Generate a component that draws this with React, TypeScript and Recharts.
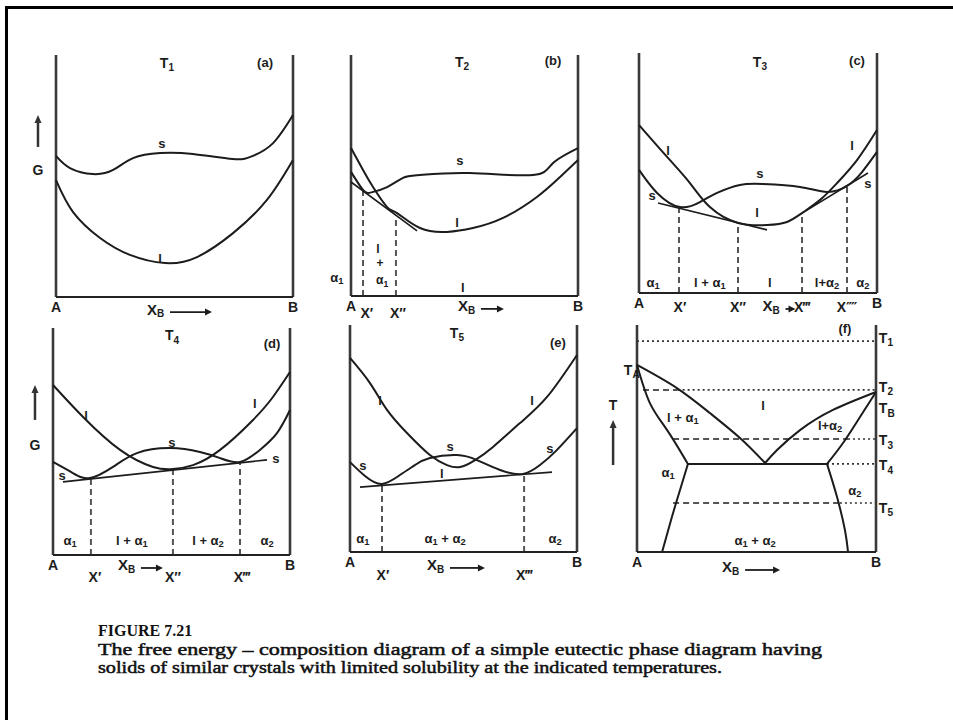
import React from 'react';
import { LineChart, Line, XAxis, YAxis, ReferenceLine, ReferenceDot } from 'recharts';

type P = { x: number; g: number };
type Lab = { x: number; g: number; t: string; size?: number; anchor?: 'start' | 'middle' | 'end' };
type Seg = { x1: number; g1: number; x2: number; g2: number; kind: 'dash' | 'dot' | 'solid' };

const pts = (a: number[][]): P[] => a.map(([x, g]) => ({ x, g }));

// ---------- composition end labels ----------
const endLabels = ['A', 'B'];

// ---------- (a) T1 ----------
const aSolid = pts([[0, 58.3], [0.059, 53.3], [0.156, 50.8], [0.241, 52.5], [0.325, 57.4], [0.439, 59.5], [0.578, 59.1], [0.747, 57.0], [0.831, 58.3], [0.916, 63.6], [1, 75.2]]);
const aLiquid = pts([[0, 48.3], [0.072, 35.1], [0.186, 24.4], [0.312, 17.4], [0.46, 14.0], [0.595, 16.5], [0.747, 26.4], [0.89, 40.1], [1, 56.6]]);
const aLabels: Lab[] = [
  { x: 0.468, g: 96.7, t: 'T_1', size: 14 }, { x: 0.882, g: 97.1, t: '(a)' },
  { x: 0.447, g: 63.6, t: 's' }, { x: 0.439, g: 16.1, t: 'l' }, { x: -0.076, g: 52.5, t: 'G', size: 14 },
];

// ---------- (b) T2 ----------
const bLiquid = pts([[0, 61.4], [0.053, 52.3], [0.097, 45.2], [0.159, 36.9], [0.203, 34.4], [0.304, 28.2], [0.423, 26.6], [0.537, 28.2], [0.67, 32.4], [0.819, 41.1], [0.921, 49.4], [1, 56.4]]);
const bSolid = pts([[0, 51.5], [0.053, 44.0], [0.09, 43.0], [0.159, 45.2], [0.229, 49.0], [0.304, 50.2], [0.524, 51.0], [0.802, 50.2], [0.89, 55.2], [1, 61.4]]);
const bTangent = pts([[0, 47.3], [0.291, 27.0]]);
const bDashed: Seg[] = [
  { x1: 0.053, g1: 0, x2: 0.053, g2: 43.6, kind: 'dash' },
  { x1: 0.198, g1: 0, x2: 0.198, g2: 33.6, kind: 'dash' },
];
const bLabels: Lab[] = [
  { x: 0.489, g: 97.1, t: 'T_2', size: 14 }, { x: 0.89, g: 97.9, t: '(b)' },
  { x: 0.48, g: 56.4, t: 's' }, { x: 0.467, g: 30.7, t: 'l' },
  { x: -0.062, g: 7.9, t: 'α_1' }, { x: 0.119, g: 19.5, t: 'l', size: 12 }, { x: 0.128, g: 13.6, t: '+', size: 12 },
  { x: 0.137, g: 6.6, t: 'α_1', size: 12 }, { x: 0.493, g: 3.7, t: 'l' },
  { x: 0.07, g: -7.1, t: 'X′', size: 14 }, { x: 0.207, g: -7.1, t: 'X″', size: 14 },
];

// ---------- (c) T3 ----------
const cLiquid = pts([[0, 70.0], [0.118, 56.7], [0.214, 45.8], [0.298, 35.8], [0.416, 29.2], [0.538, 28.3], [0.622, 29.6], [0.685, 33.3], [0.761, 38.8], [0.832, 45.8], [0.916, 55.4], [1, 67.9]]);
const cSolid = pts([[0, 51.3], [0.076, 41.7], [0.172, 35.8], [0.256, 37.9], [0.328, 41.7], [0.424, 45.0], [0.521, 45.4], [0.676, 44.2], [0.79, 42.1], [0.874, 44.6], [0.937, 50.4], [1, 58.8]]);
const cTangentL = pts([[0.08, 37.5], [0.538, 26.3]]);
const cTangentR = pts([[0.685, 33.3], [0.962, 50.0]]);
const cDashed: Seg[] = [
  { x1: 0.168, g1: 0, x2: 0.168, g2: 35.4, kind: 'dash' },
  { x1: 0.416, g1: 0, x2: 0.416, g2: 29.2, kind: 'dash' },
  { x1: 0.685, g1: 0, x2: 0.685, g2: 33.3, kind: 'dash' },
  { x1: 0.874, g1: 0, x2: 0.874, g2: 44.2, kind: 'dash' },
];
const cLabels: Lab[] = [
  { x: 0.508, g: 96.3, t: 'T_3', size: 14 }, { x: 0.916, g: 97.1, t: '(c)' },
  { x: 0.122, g: 59.6, t: 'l' }, { x: 0.508, g: 50.0, t: 's' }, { x: 0.496, g: 33.8, t: 'l' },
  { x: 0.055, g: 40.8, t: 's' }, { x: 0.895, g: 61.7, t: 'l' }, { x: 0.962, g: 45.8, t: 's' },
  { x: 0.059, g: 4.6, t: 'α_1' }, { x: 0.298, g: 4.6, t: 'l + α_1' }, { x: 0.55, g: 4.6, t: 'l' },
  { x: 0.79, g: 4.6, t: 'l+α_2' }, { x: 0.941, g: 4.6, t: 'α_2' },
  { x: 0.172, g: -5.8, t: 'X′', size: 14 }, { x: 0.416, g: -5.8, t: 'X″', size: 14 },
  { x: 0.685, g: -5.8, t: 'X‴', size: 14 }, { x: 0.874, g: -5.8, t: 'X⁗', size: 14 },
];

// ---------- (d) T4 ----------
const dLiquid = pts([[0, 74.9], [0.127, 60.8], [0.283, 46.3], [0.422, 38.8], [0.506, 37.9], [0.591, 39.6], [0.705, 46.3], [0.844, 59.5], [0.928, 69.6], [1, 80.6]]);
const dSolid = pts([[0, 41.0], [0.084, 36.1], [0.156, 33.9], [0.253, 38.8], [0.354, 44.9], [0.494, 47.1], [0.62, 45.4], [0.705, 42.7], [0.789, 41.0], [0.873, 46.3], [0.945, 53.7], [1, 63.9]]);
const dTangent = pts([[0.042, 32.2], [0.903, 41.9]]);
const dDashed: Seg[] = [
  { x1: 0.16, g1: 0, x2: 0.16, g2: 33.5, kind: 'dash' },
  { x1: 0.506, g1: 0, x2: 0.506, g2: 37.6, kind: 'dash' },
  { x1: 0.789, g1: 0, x2: 0.789, g2: 40.8, kind: 'dash' },
];
const dLabels: Lab[] = [
  { x: 0.502, g: 96.9, t: 'T_4', size: 14 }, { x: 0.924, g: 93.4, t: '(d)' },
  { x: -0.076, g: 48.5, t: 'G', size: 14 },
  { x: 0.14, g: 61.7, t: 'l' }, { x: 0.502, g: 49.8, t: 's' }, { x: 0.038, g: 35.2, t: 's' },
  { x: 0.94, g: 42.7, t: 's' }, { x: 0.852, g: 67.0, t: 'l' },
  { x: 0.072, g: 6.6, t: 'α_1' }, { x: 0.333, g: 6.6, t: 'l + α_1' }, { x: 0.654, g: 6.6, t: 'l + α_2' },
  { x: 0.903, g: 6.6, t: 'α_2' },
  { x: 0.177, g: -9.7, t: 'X′', size: 14 }, { x: 0.506, g: -9.7, t: 'X″', size: 14 }, { x: 0.797, g: -9.7, t: 'X‴', size: 14 },
];

// ---------- (e) T5 ----------
const eLiquid = pts([[0, 85.5], [0.088, 74.4], [0.163, 62.6], [0.251, 52.4], [0.352, 42.7], [0.427, 38.3], [0.485, 37.4], [0.551, 40.5], [0.63, 46.3], [0.749, 56.8], [0.868, 68.3], [1, 86.8]]);
const eSolid = pts([[0, 39.6], [0.066, 33.5], [0.141, 30.0], [0.22, 33.9], [0.286, 38.3], [0.352, 41.4], [0.471, 42.7], [0.559, 40.5], [0.661, 36.1], [0.762, 34.4], [0.837, 38.3], [0.903, 44.1], [1, 54.6]]);
const eTangent = pts([[0.044, 28.6], [0.89, 35.2]]);
const eDashed: Seg[] = [
  { x1: 0.141, g1: 0, x2: 0.141, g2: 29.5, kind: 'dash' },
  { x1: 0.767, g1: 0, x2: 0.767, g2: 34.2, kind: 'dash' },
];
const eLabels: Lab[] = [
  { x: 0.471, g: 96.5, t: 'T_5', size: 14 }, { x: 0.916, g: 92.5, t: '(e)' },
  { x: 0.132, g: 67.0, t: 'l' }, { x: 0.802, g: 67.0, t: 'l' }, { x: 0.057, g: 38.3, t: 's' },
  { x: 0.441, g: 46.7, t: 's' }, { x: 0.405, g: 34.8, t: 'l' }, { x: 0.881, g: 45.8, t: 's' },
  { x: 0.057, g: 6.2, t: 'α_1' }, { x: 0.419, g: 6.2, t: 'α_1 + α_2' }, { x: 0.903, g: 6.2, t: 'α_2' },
  { x: 0.145, g: -10.1, t: 'X′', size: 14 }, { x: 0.767, g: -10.1, t: 'X‴', size: 14 },
];

// ---------- (f) phase diagram ----------
const fLiquidusA = pts([[0, 82.4], [0.167, 72.2], [0.305, 61.2], [0.431, 50.2], [0.536, 39.2]]);
const fSolidusA = pts([[0, 82.4], [0.054, 65.6], [0.126, 53.7], [0.213, 38.8]]);
const fSolvusA = pts([[0.213, 38.8], [0.18, 27.3], [0.146, 15.4], [0.105, 0]]);
const fLiquidusB = pts([[1, 70.5], [0.82, 62.6], [0.682, 53.7], [0.586, 44.9], [0.536, 39.2]]);
const fSolidusB = pts([[1, 70.5], [0.933, 59.5], [0.862, 48.0], [0.795, 38.8]]);
const fSolvusB = pts([[0.795, 38.8], [0.837, 24.2], [0.87, 9.7], [0.883, 0]]);
const fEutectic = pts([[0.213, 38.8], [0.795, 38.8]]);
const fIsotherms: Seg[] = [
  { x1: 0, g1: 92.9, x2: 1, g2: 92.9, kind: 'dot' },
  { x1: 0.025, g1: 71.4, x2: 0.17, g2: 71.4, kind: 'dash' },
  { x1: 0.17, g1: 71.4, x2: 1, g2: 71.4, kind: 'dot' },
  { x1: 0.151, g1: 49.8, x2: 0.883, g2: 49.8, kind: 'dash' },
  { x1: 0.883, g1: 49.8, x2: 1, g2: 49.8, kind: 'dot' },
  { x1: 0.795, g1: 38.8, x2: 1, g2: 38.8, kind: 'dot' },
  { x1: 0.151, g1: 21.6, x2: 0.849, g2: 21.6, kind: 'dash' },
  { x1: 0.849, g1: 21.6, x2: 1, g2: 21.6, kind: 'dot' },
];
const fLabels: Lab[] = [
  { x: 0.87, g: 98.8, t: '(f)' },
  { x: 1.012, g: 94.3, t: 'T_1', size: 14, anchor: 'start' },
  { x: 1.012, g: 72.7, t: 'T_2', size: 14, anchor: 'start' },
  { x: 1.012, g: 63.4, t: 'T_B', size: 14, anchor: 'start' },
  { x: 1.012, g: 49.3, t: 'T_3', size: 14, anchor: 'start' },
  { x: 1.012, g: 38.3, t: 'T_4', size: 14, anchor: 'start' },
  { x: 1.012, g: 19.4, t: 'T_5', size: 14, anchor: 'start' },
  { x: -0.022, g: 80.2, t: 'T_A', size: 14 },
  { x: -0.1, g: 64.8, t: 'T', size: 14 },
  { x: 0.527, g: 64.8, t: 'l' }, { x: 0.192, g: 59.5, t: 'l + α_1' }, { x: 0.808, g: 55.9, t: 'l+α_2' },
  { x: 0.13, g: 35.2, t: 'α_1' }, { x: 0.912, g: 27.3, t: 'α_2' }, { x: 0.494, g: 5.3, t: 'α_1 + α_2' },
];

// ---------- caption ----------
const captionTitle = 'FIGURE 7.21';
const captionLines = [
  'The free energy – composition diagram of a simple eutectic phase diagram having',
  'solids of similar crystals with limited solubility at the indicated temperatures.',
];

const FONT = '"Liberation Sans", "DejaVu Sans", sans-serif';
const INK = '#1c1c1c';

function Rich({ x, y, t, size = 13, anchor = 'middle' }: { x: number; y: number; t: string; size?: number; anchor?: string }) {
  const segs: { s: string; sub: boolean }[] = [];
  let buf = '';
  for (let i = 0; i < t.length; i++) {
    if (t[i] === '_' && i + 1 < t.length) {
      if (buf) segs.push({ s: buf, sub: false });
      buf = '';
      segs.push({ s: t[i + 1], sub: true });
      i++;
    } else buf += t[i];
  }
  if (buf) segs.push({ s: buf, sub: false });
  const shift = size * 0.32;
  let prevSub = false;
  return (
    <text x={x} y={y} textAnchor={anchor as any} dominantBaseline="central" fontFamily={FONT} fontSize={size} fontWeight="bold" fill={INK}>
      {segs.map((sg, k) => {
        const dy = sg.sub ? (prevSub ? 0 : shift) : prevSub ? -shift : 0;
        prevSub = sg.sub;
        return (
          <tspan key={k} dy={dy} fontSize={sg.sub ? size * 0.72 : size}>
            {sg.s}
          </tspan>
        );
      })}
    </text>
  );
}

function UpArrow({ cx, cy, len }: { cx: number; cy: number; len: number }) {
  return (
    <g>
      <line x1={cx} y1={cy} x2={cx} y2={cy - len + 4} stroke="#333" strokeWidth={2.5} />
      <path d={`M${cx - 3.5},${cy - len + 8} L${cx},${cy - len} L${cx + 3.5},${cy - len + 8} Z`} fill="#333" />
    </g>
  );
}

function XBArrow({ cx, cy, len }: { cx: number; cy: number; len: number }) {
  const x0 = cx + 23;
  const x1 = x0 + len;
  return (
    <g>
      <text x={cx} y={cy} dominantBaseline="central" fontFamily={FONT} fontSize={15} fontWeight="bold" fill={INK}>
        X<tspan fontSize={10} dy={4}>B</tspan>
      </text>
      <line x1={x0} y1={cy + 3} x2={x1 - 5} y2={cy + 3} stroke={INK} strokeWidth={1.8} />
      <path d={`M${x1 - 7},${cy - 0.5} L${x1},${cy + 3} L${x1 - 7},${cy + 6.5} Z`} fill={INK} />
    </g>
  );
}

type PanelProps = {
  box: [number, number, number, number];
  curves: { d: P[]; linear?: boolean; w?: number }[];
  segs?: Seg[];
  labels: Lab[];
  xb: { x: number; g: number; len: number };
  arrow?: { x: number; g: number; len: number };
};

const M = 40;

function Panel({ box, curves, segs = [], labels, xb, arrow }: PanelProps) {
  const [L, T, W, H] = box;
  return (
    <div style={{ position: 'absolute', left: L - M, top: T - M }}>
      <LineChart width={W + 2 * M} height={H + 2 * M + 1} margin={{ top: M, right: M, bottom: M, left: M }}>
        <XAxis
          type="number"
          dataKey="x"
          domain={[0, 1]}
          ticks={[0, 1]}
          interval={0}
          height={1}
          tickLine={false}
          tickSize={0}
          tickMargin={0}
          axisLine={{ stroke: '#222', strokeWidth: 2 }}
          tick={(p: any) => (
            <text x={p.x} y={p.y + 10} textAnchor="middle" dominantBaseline="central" fontFamily={FONT} fontSize={14} fontWeight="bold" fill={INK}>
              {endLabels[p.payload.value === 0 ? 0 : 1]}
            </text>
          )}
        />
        <YAxis type="number" domain={[0, 100]} hide />
        <ReferenceLine x={0} stroke="#3a3a3a" strokeWidth={2.6} ifOverflow="visible" />
        <ReferenceLine x={1} stroke="#3a3a3a" strokeWidth={2.6} ifOverflow="visible" />
        {segs.map((s, i) => (
          <ReferenceLine
            key={'s' + i}
            segment={[{ x: s.x1, y: s.g1 }, { x: s.x2, y: s.g2 }]}
            stroke={s.kind === 'dot' ? '#333' : '#555'}
            strokeWidth={s.kind === 'dot' ? 1.6 : 2}
            strokeDasharray={s.kind === 'dot' ? '2 3' : s.kind === 'dash' ? '6 4' : undefined}
            ifOverflow="visible"
          />
        ))}
        {curves.map((c, i) => (
          <Line
            key={'c' + i}
            data={c.d}
            dataKey="g"
            type={c.linear ? 'linear' : 'natural'}
            stroke={INK}
            strokeWidth={c.w ?? 2}
            dot={false}
            activeDot={false}
            isAnimationActive={false}
          />
        ))}
        {labels.map((lb, i) => (
          <ReferenceDot
            key={'l' + i}
            x={lb.x}
            y={lb.g}
            r={0}
            ifOverflow="visible"
            shape={(p: any) => <Rich x={p.cx} y={p.cy} t={lb.t} size={lb.size ?? 13} anchor={lb.anchor ?? 'middle'} />}
          />
        ))}
        <ReferenceDot x={xb.x} y={xb.g} r={0} ifOverflow="visible" shape={(p: any) => <XBArrow cx={p.cx} cy={p.cy} len={xb.len} />} />
        {arrow && (
          <ReferenceDot x={arrow.x} y={arrow.g} r={0} ifOverflow="visible" shape={(p: any) => <UpArrow cx={p.cx} cy={p.cy} len={arrow.len} />} />
        )}
      </LineChart>
    </div>
  );
}

export default function App() {
  return (
    <div style={{ position: 'fixed', left: 0, top: 0, width: 953, height: 720, overflow: 'hidden', background: '#fff' }}>
      <div style={{ position: 'absolute', left: 5, top: 6, width: 948, height: 714, borderTop: '3px solid #000', borderLeft: '3px solid #000', boxSizing: 'border-box' }} />
      <Panel
        box={[56, 55, 237, 242]}
        curves={[{ d: aSolid }, { d: aLiquid }]}
        labels={aLabels}
        xb={{ x: 0.384, g: -5.0, len: 42 }}
        arrow={{ x: -0.076, g: 62.0, len: 32 }}
      />
      <Panel
        box={[351, 55, 227, 241]}
        curves={[{ d: bSolid }, { d: bLiquid }, { d: bTangent, linear: true, w: 1.6 }]}
        segs={bDashed}
        labels={bLabels}
        xb={{ x: 0.471, g: -4.1, len: 23 }}
      />
      <Panel
        box={[639, 53, 238, 240]}
        curves={[{ d: cSolid }, { d: cLiquid }, { d: cTangentL, linear: true, w: 1.6 }, { d: cTangentR, linear: true, w: 1.6 }]}
        segs={cDashed}
        labels={cLabels}
        xb={{ x: 0.519, g: -5.4, len: 10 }}
      />
      <Panel
        box={[53, 328, 237, 227]}
        curves={[{ d: dSolid }, { d: dLiquid }, { d: dTangent, linear: true, w: 1.6 }]}
        segs={dDashed}
        labels={dLabels}
        xb={{ x: 0.274, g: -4.4, len: 22 }}
        arrow={{ x: -0.076, g: 59.5, len: 35 }}
      />
      <Panel
        box={[350, 325, 227, 227]}
        curves={[{ d: eSolid }, { d: eLiquid }, { d: eTangent, linear: true, w: 1.6 }]}
        segs={eDashed}
        labels={eLabels}
        xb={{ x: 0.339, g: -5.7, len: 35 }}
      />
      <Panel
        box={[637, 325, 239, 227]}
        curves={[
          { d: fLiquidusA }, { d: fSolidusA }, { d: fSolvusA },
          { d: fLiquidusB }, { d: fSolidusB }, { d: fSolvusB },
          { d: fEutectic, linear: true },
        ]}
        segs={fIsotherms}
        labels={fLabels}
        xb={{ x: 0.356, g: -6.6, len: 35 }}
        arrow={{ x: -0.1, g: 38.3, len: 45 }}
      />
      <svg width={953} height={120} style={{ position: 'absolute', left: 0, top: 600 }}>
        <text x={98} y={36} fontFamily='"Liberation Serif", "DejaVu Serif", serif' fontSize={16} fontWeight="bold" fill="#111">
          {captionTitle}
        </text>
        {captionLines.map((ln, i) => (
          <text
            key={i}
            x={98}
            y={55 + i * 18}
            fontFamily='"Liberation Serif", "DejaVu Serif", serif'
            fontSize={17}
            fill="#111"
            stroke="#111"
            strokeWidth={0.5}
            textLength={i === 0 ? 724 : 624}
            lengthAdjust="spacingAndGlyphs"
          >
            {ln}
          </text>
        ))}
      </svg>
    </div>
  );
}
